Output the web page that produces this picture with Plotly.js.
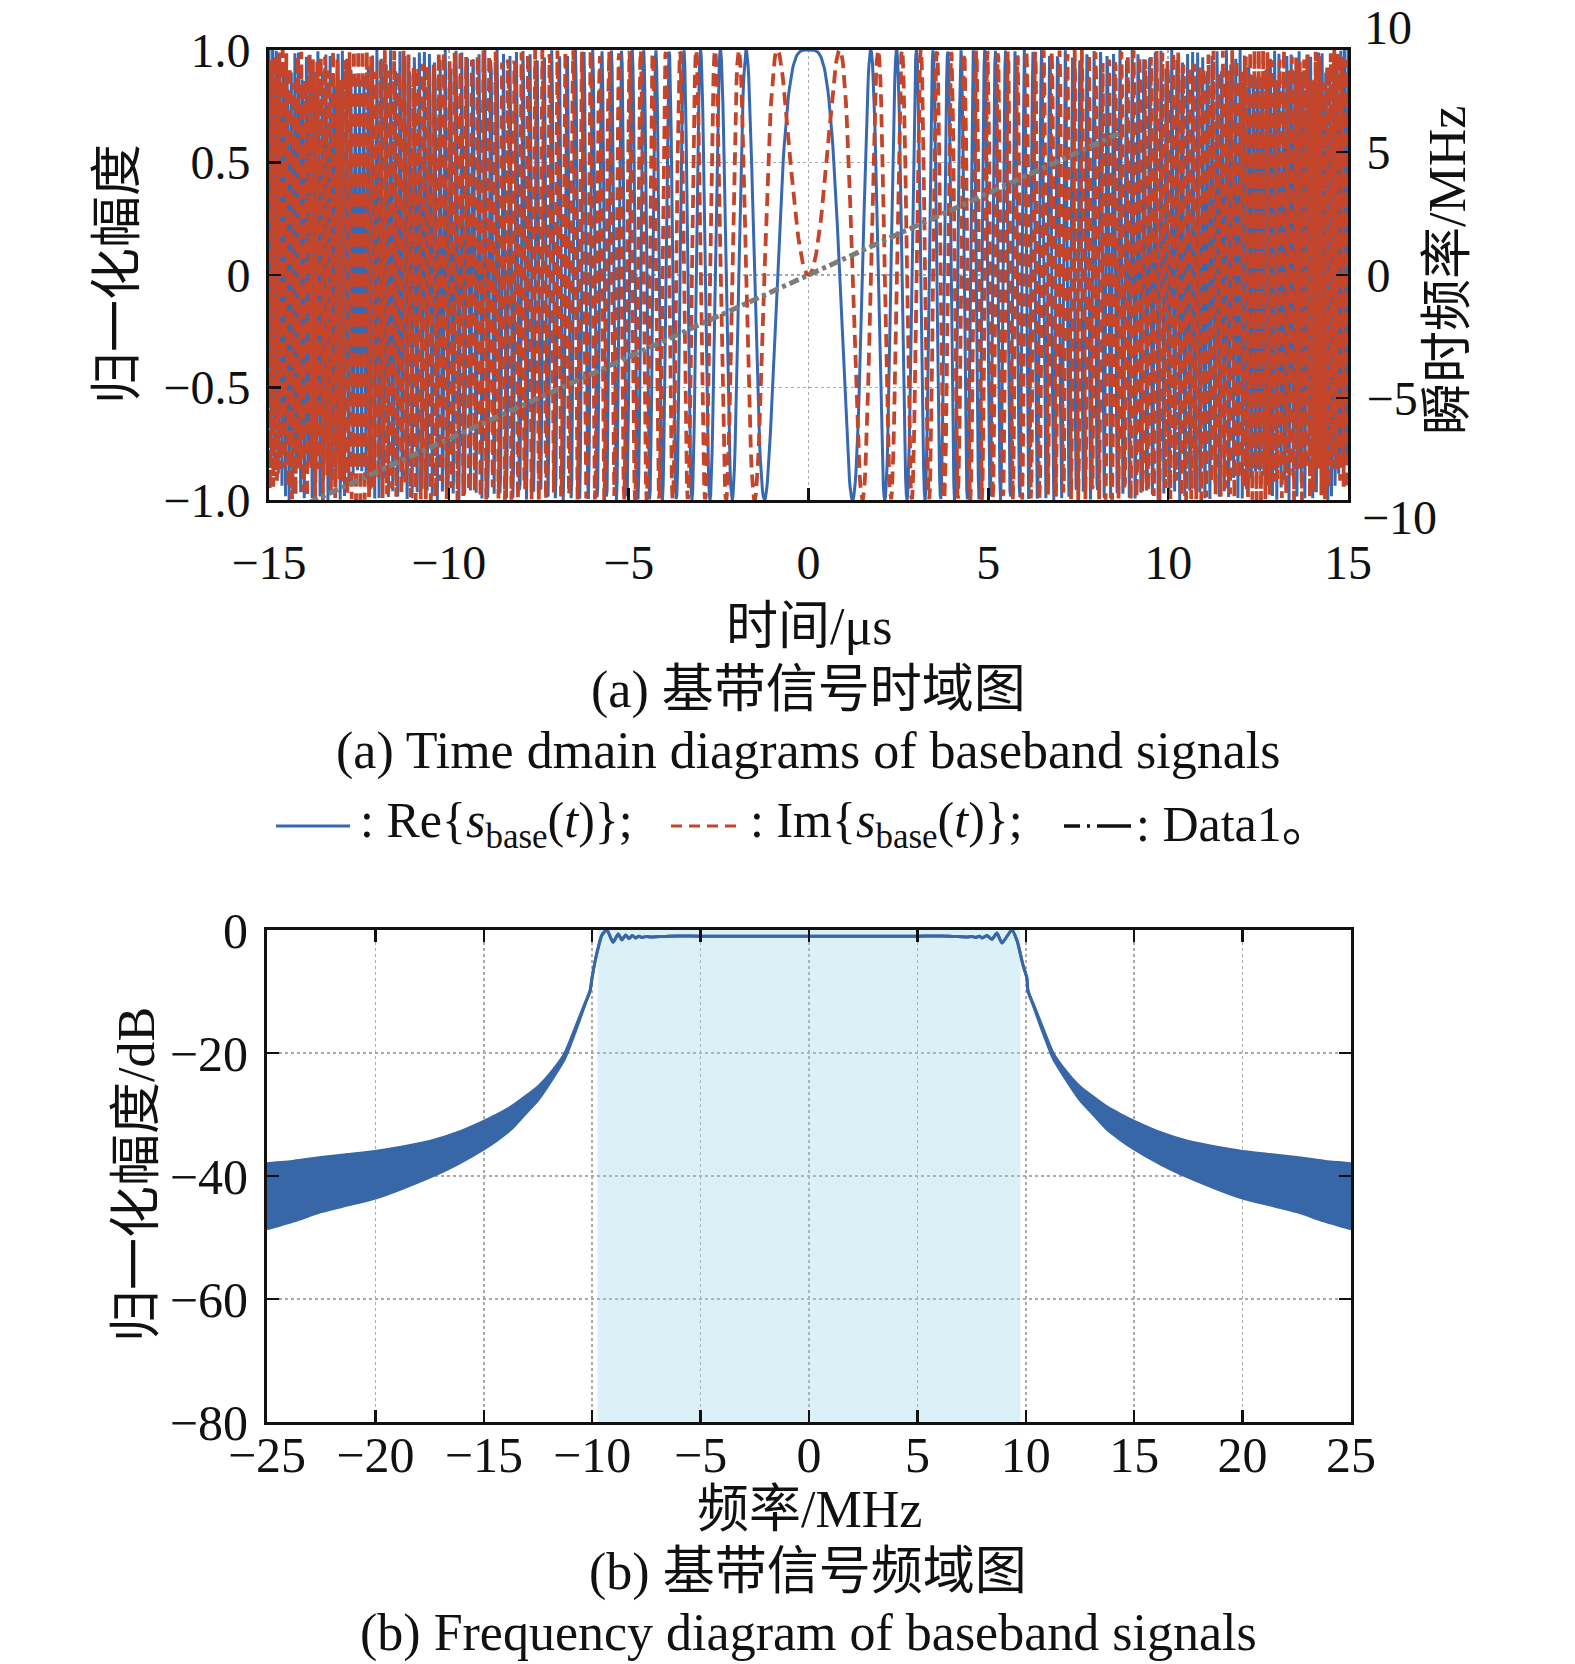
<!DOCTYPE html>
<html><head><meta charset="utf-8">
<script src="https://cdn.plot.ly/plotly-3.0.1.min.js"></script>
<style>html,body{margin:0;padding:0;background:#fff}</style>
</head><body><div id="chart" style="width:1575px;height:1664px"></div>
<script>
// ---------------- data ----------------
// (a) time domain
const timeTicks = [-15, -10, -5, 0, 5, 10, 15];
const timeTickText = ['−15', '−10', '−5', '0', '5', '10', '15'];
const ampTicks = [-1, -0.5, 0, 0.5, 1];
const ampTickText = ['−1.0', '−0.5', '0', '0.5', '1.0'];
const instFreqTicks = [-5, 0, 5];
const instFreqTickText = ['−5', '0', '5'];
const timeSpanUs = [-15, 15];
const sampleRateMHz = 50;            // spectrum axis spans ±25 MHz
// Data1: instantaneous-frequency line (visible part), t in µs, f in MHz
const data1T = [-15, 8.7];
const data1F = [-10, 5.8];

// (b) frequency domain
const freqTicks = [-25, -20, -15, -10, -5, 0, 5, 10, 15, 20, 25];
const freqTickText = ['−25', '−20', '−15', '−10', '−5', '0', '5', '10', '15', '20', '25'];
const dbTicks = [-80, -60, -40, -20, 0];
const dbTickText = ['−80', '−60', '−40', '−20', '0'];
const bandEdgesMHz = [-9.75, 9.75];
const specFreq = [-25, -23.75, -22.5, -21.25, -20, -18.75, -17.5, -16.25, -15, -14.37, -13.75, -13.12, -12.5, -11.88, -11.27, -10.8, -10.34, -10.1, -10.0, -9.78, -9.55, -9.32, -9.04, -8.8, -8.63, -8.45, -8.3, -8.15, -8, -7.85, -7.7, -7.5, -7.3, -6.5, -5, -3, -1, 0, 1, 3, 5, 6.5, 7.3, 7.5, 7.7, 7.85, 8.0, 8.2, 8.44, 8.67, 8.9, 9.36, 9.6, 9.87, 10.05, 10.1, 10.34, 10.8, 11.27, 11.88, 12.5, 13.12, 13.75, 14.37, 15, 16.25, 17.5, 18.75, 20, 21.25, 22.5, 23.75, 25];
const specUpper = [-38.0, -37.6, -37.0, -36.5, -36.0, -35.3, -34.4, -33.0, -31.1, -30.0, -28.8, -27.2, -25.5, -23.1, -20.1, -16.1, -12.0, -9.9, -7.6, -3.7, -0.8, 0, -2.0, -0.65, -1.6, -0.8, -1.4, -0.9, -1.3, -1.0, -1.2, -1.05, -1.15, -1.0, -1.0, -1.0, -1.0, -1.0, -1.0, -1.0, -1.0, -1.0, -1.15, -1.05, -1.2, -1.0, -1.3, -0.9, -1.5, -0.5, -2.1, 0, -1.8, -5.7, -7.8, -9.9, -12.0, -16.1, -20.1, -23.1, -25.5, -27.2, -28.8, -30.0, -31.1, -33.0, -34.4, -35.3, -36.0, -36.5, -37.0, -37.6, -38.0];
const specLower = [-48.6, -47.3, -45.8, -44.7, -43.6, -42.0, -40.2, -38.1, -35.6, -34.1, -32.4, -30.0, -27.6, -24.4, -20.9, -16.7, -12.2, -9.9, -7.6, -3.7, -0.8, 0, -2.0, -0.65, -1.6, -0.8, -1.4, -0.9, -1.3, -1.0, -1.2, -1.05, -1.15, -1.0, -1.0, -1.0, -1.0, -1.0, -1.0, -1.0, -1.0, -1.0, -1.15, -1.05, -1.2, -1.0, -1.3, -0.9, -1.5, -0.5, -2.1, 0, -1.8, -5.7, -7.8, -9.9, -12.2, -16.7, -20.9, -24.4, -27.6, -30.0, -32.4, -34.1, -35.6, -38.1, -40.2, -42.0, -43.6, -44.7, -45.8, -47.3, -48.6];

// ---------------- baseband chirp from the Data1 frequency law ----------------
const chirpRate = (data1F[1] - data1F[0]) / (data1T[1] - data1T[0]);  // MHz/µs
const f0 = data1F[0] - chirpRate * data1T[0];
const nSamp = Math.round((timeSpanUs[1] - timeSpanUs[0]) * sampleRateMHz) + 1;
const tUs = [], reS = [], imS = [];
for (let i = 0; i < nSamp; i++) {
  const t = timeSpanUs[0] + i / sampleRateMHz;
  const ph = 2 * Math.PI * (f0 * t + 0.5 * chirpRate * t * t);
  tUs.push(t); reS.push(Math.cos(ph)); imS.push(Math.sin(ph));
}

// ---------------- layout helpers ----------------
const W = 1575, H = 1664;
const px = v => v / W, py = v => 1 - v / H;
const FONT = 'Liberation Serif, "Noto Sans CJK SC", serif';
const BLUE = '#3869b0', RED = '#c4452a', GRAY = '#7c7c7c', SPEC = '#3867a8';

const traces = [
  {x: tUs, y: reS, xaxis: 'x', yaxis: 'y', mode: 'lines', line: {color: BLUE, width: 3}, hoverinfo: 'skip'},
  {x: tUs, y: imS, xaxis: 'x', yaxis: 'y', mode: 'lines', line: {color: RED, width: 3.8, dash: '13px,7px'}, hoverinfo: 'skip'},
  {x: data1T, y: data1F, xaxis: 'x', yaxis: 'y2', mode: 'lines', line: {color: GRAY, width: 5, dash: '10px,4px,4px,4px'}},
  {x: [bandEdgesMHz[0], bandEdgesMHz[0], bandEdgesMHz[1], bandEdgesMHz[1]], y: [dbTicks[0], dbTicks[4], dbTicks[4], dbTicks[0]],
   xaxis: 'x2', yaxis: 'y3', mode: 'lines', fill: 'toself', fillcolor: 'rgba(150,210,235,0.33)', line: {width: 0}},
  {x: specFreq, y: specLower, xaxis: 'x2', yaxis: 'y3', mode: 'lines', line: {color: SPEC, width: 3, shape: 'spline', smoothing: 0.6}},
  {x: specFreq, y: specUpper, xaxis: 'x2', yaxis: 'y3', mode: 'lines', fill: 'tonexty', fillcolor: SPEC, line: {color: SPEC, width: 3, shape: 'spline', smoothing: 0.6}}
];

const axBase = {
  showline: true, linewidth: 3, linecolor: '#111', ticks: 'inside', ticklen: 12, tickwidth: 2.5, tickcolor: '#111',
  showgrid: true, gridcolor: '#aaaaaa', griddash: 'dot', gridwidth: 1.5, zeroline: false,
  tickfont: {family: FONT, size: 48, color: '#111'}
};

const layout = {
  width: W, height: H, margin: {l: 0, r: 0, t: 0, b: 0}, showlegend: false,
  paper_bgcolor: '#fff', plot_bgcolor: '#fff', font: {family: FONT, color: '#111'},
  xaxis: Object.assign({}, axBase, {domain: [px(269), px(1348)], anchor: 'y', range: timeSpanUs, tickmode: 'array',
    tickvals: timeTicks, ticktext: timeTickText, mirror: true, ticklabelstandoff: 18}),
  yaxis: Object.assign({}, axBase, {domain: [py(500), py(50)], anchor: 'x', range: [-1, 1], tickmode: 'array',
    tickvals: ampTicks, ticktext: ampTickText, ticklabelstandoff: 6}),
  yaxis2: Object.assign({}, axBase, {overlaying: 'y', side: 'right', anchor: 'x', range: [-9.15, 9.15], tickmode: 'array',
    tickvals: instFreqTicks, ticktext: instFreqTickText, showgrid: false, ticklabelstandoff: 6}),
  xaxis2: Object.assign({}, axBase, {domain: [px(267), px(1351)], anchor: 'y3', range: [-25, 25], tickmode: 'array',
    tickvals: freqTicks, ticktext: freqTickText, mirror: 'ticks', tickfont: {family: FONT, size: 50, color: '#111'}, ticklabelstandoff: -13}),
  yaxis3: Object.assign({}, axBase, {domain: [py(1422), py(930)], anchor: 'x2', range: [-80, 0], tickmode: 'array',
    tickvals: dbTicks, ticktext: dbTickText, mirror: 'ticks', tickfont: {family: FONT, size: 50, color: '#111'}, ticklabelstandoff: 6}),
  shapes: [
    {type: 'line', xref: 'paper', yref: 'paper', x0: px(276), x1: px(350), y0: py(826), y1: py(826), line: {color: BLUE, width: 3}},
    {type: 'line', xref: 'paper', yref: 'paper', x0: px(671), x1: px(741), y0: py(826), y1: py(826), line: {color: RED, width: 3, dash: '11px,7px'}},
    {type: 'line', xref: 'paper', yref: 'paper', x0: px(1064), x1: px(1131), y0: py(826), y1: py(826), line: {color: '#111', width: 3.5, dash: '16px,7px,3px,7px,40px'}}
  ],
  annotations: [
    {text: '10', x: px(1362), y: py(27), xanchor: 'left', yanchor: 'middle'},
    {text: '−10', x: px(1360), y: py(517), xanchor: 'left', yanchor: 'middle'},
    {text: '归一化幅度', x: px(117), y: py(274), textangle: -90, font: {size: 52}},
    {text: '瞬时频率/MHz', x: px(1448), y: py(271), textangle: -90, font: {size: 52}},
    {text: '时间/μs', x: px(809), y: py(626), font: {size: 52}},
    {text: '(a) 基带信号时域图', x: px(808), y: py(690), font: {size: 52}},
    {text: '(a) Time dmain diagrams of baseband signals', x: px(808), y: py(751), font: {size: 52}},
    {text: ': Re{<i>s</i><sub>base</sub>(<i>t</i>)};', x: px(358), y: py(824), xanchor: 'left', font: {size: 50}},
    {text: ': Im{<i>s</i><sub>base</sub>(<i>t</i>)};', x: px(748), y: py(824), xanchor: 'left', font: {size: 50}},
    {text: ': Data1。', x: px(1134), y: py(824), xanchor: 'left', font: {size: 50}},
    {text: '归一化幅度/dB', x: px(136), y: py(1175), textangle: -90, font: {size: 52}},
    {text: '频率/MHz', x: px(809), y: py(1509), font: {size: 52}},
    {text: '(b) 基带信号频域图', x: px(808), y: py(1572), font: {size: 52}},
    {text: '(b) Frequency diagram of baseband signals', x: px(808), y: py(1633), font: {size: 52}}
  ].map(a => Object.assign({xref: 'paper', yref: 'paper', showarrow: false, xanchor: 'center', yanchor: 'middle'},
    a, {font: Object.assign({family: FONT, color: '#111', size: 48}, a.font || {})}))
};

Plotly.newPlot('chart', traces, layout, {staticPlot: true, displayModeBar: false});
</script>
</body></html>
